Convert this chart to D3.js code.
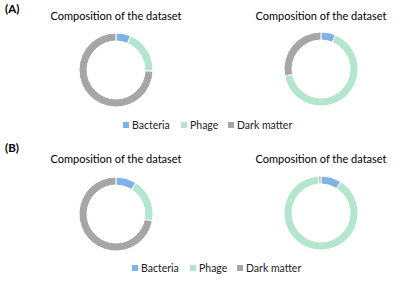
<!DOCTYPE html>
<html><head><meta charset="utf-8">
<script src="https://cdn.jsdelivr.net/npm/d3@7"></script>
<style>body{margin:0;background:#fff}svg{display:block}</style>
</head><body>
<svg id="c" width="416" height="282"></svg>
<script>
const categories = ["Bacteria", "Phage", "Dark matter"];
const colors = ["#7EB2E4", "#B3E6CC", "#A6A6A6"];
const panelALeft = [6.5, 19, 74.5];
const panelARight = [6.4, 65.6, 28];
const panelBLeft = [9, 19, 72];
const panelBRight = [9, 90, 1];
const chartTitle = "Composition of the dataset";
const panelLabels = ["(A)", "(B)"];

const svg = d3.select("#c");
const font = "Lato, 'Open Sans', sans-serif";
const color = d3.scaleOrdinal().domain(categories).range(colors);
const pie = d3.pie().sort(null).value(d => d.v);
const arc = d3.arc().innerRadius(29).outerRadius(37);

const panels = [
  {label: panelLabels[0], ly: 13, ty: 20, legY: 125, legX: 123,
   charts: [{cx: 116, cy: 70, data: panelALeft}, {cx: 321, cy: 69, data: panelARight}]},
  {label: panelLabels[1], ly: 152, ty: 163, legY: 268, legX: 132,
   charts: [{cx: 116, cy: 214, data: panelBLeft}, {cx: 321, cy: 213, data: panelBRight}]}
];

panels.forEach(p => {
  svg.append("text").attr("x", 5).attr("y", p.ly).text(p.label)
    .attr("font-family", font).attr("font-weight", "bold").attr("font-size", 11.5).attr("fill", "#000");
  p.charts.forEach(c => {
    svg.append("text").attr("x", c.cx).attr("y", p.ty).attr("text-anchor", "middle")
      .attr("font-family", font).attr("font-size", 11).attr("fill", "#000").text(chartTitle);
    const g = svg.append("g").attr("transform", `translate(${c.cx},${c.cy})`);
    const vals = categories.map((k, i) => ({k, v: c.data[i]}));
    g.selectAll("path").data(pie(vals)).join("path")
      .attr("d", arc).attr("fill", d => color(d.data.k))
      .attr("stroke", "#fff").attr("stroke-width", 1);
  });
  const leg = svg.append("g").attr("transform", `translate(${p.legX},${p.legY})`);
  const offs = [0, 58, 105];
  categories.forEach((k, i) => {
    const gg = leg.append("g").attr("transform", `translate(${offs[i]},0)`);
    gg.append("rect").attr("x", 0).attr("y", -3).attr("width", 6).attr("height", 6).attr("fill", color(k));
    gg.append("text").attr("x", 9).attr("y", 3.5).attr("font-family", font).attr("font-size", 10.5)
      .attr("fill", "#222").text(k);
  });
});
</script>
</body></html>
